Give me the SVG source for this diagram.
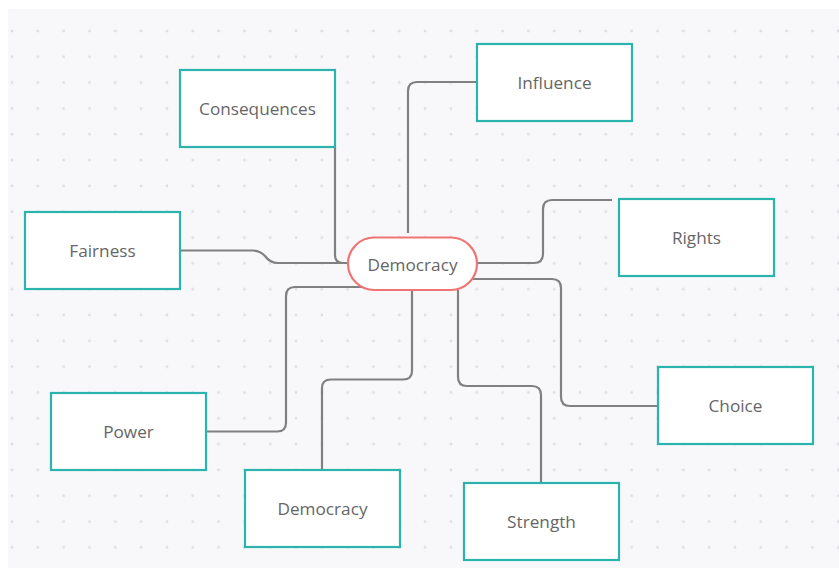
<svg xmlns="http://www.w3.org/2000/svg" width="839" height="568" viewBox="0 0 839 568">
<defs>
<pattern id="dots" patternUnits="userSpaceOnUse" x="-0.91" y="18.09" width="25.82" height="25.82">
<circle cx="12.91" cy="12.91" r="1.4" fill="#dedee2"/>
</pattern>
<style>
.box{fill:#fff;stroke:#2bb3ae;stroke-width:2.2}
.center{fill:#fff;stroke:#f07474;stroke-width:2.2}
.lbl{font-family:"Open Sans","Noto Sans",sans-serif;font-size:17.2px;fill:#666;text-anchor:middle;dominant-baseline:central}
.conn path{fill:none;stroke:#808080;stroke-width:2.2}
</style>
</defs>
<rect x="0" y="0" width="839" height="568" fill="#fff"/>
<rect x="8" y="9" width="831" height="559" fill="#f8f8fa"/>
<rect x="8" y="9" width="831" height="559" fill="url(#dots)"/>
<g class="conn" id="connectors">
<path d="M335 147 V255 Q335 263 343 263 H348"/>
<path d="M180 250.5 H253 Q260 250.5 265 256 Q270 263 278 263 H348"/>
<path d="M477 82 H417 Q408 82 408 91 V233"/>
<path d="M477 263 H534 Q543 263 543 254 V209 Q543 200 552 200 H612"/>
<path d="M465 279 H552 Q561 279 561 288 V397 Q561 406 570 406 H658"/>
<path d="M458 290 V377 Q458 386 467 386 H532 Q541 386 541 395 V483"/>
<path d="M412 290 V371 Q412 379.5 403 379.5 H331 Q322 379.5 322 388 V470"/>
<path d="M365 287 H295 Q286 287 286 296 V423 Q286 431.5 277 431.5 H206"/>
</g>
<g id="n-center"><rect class="center" x="348" y="237.5" width="129" height="52.5" rx="26.25"/><text class="lbl" x="412.5" y="264">Democracy</text></g>
<g id="n-consequences"><rect class="box" x="180" y="70" width="155" height="77"/><text class="lbl" x="257.5" y="108.5">Consequences</text></g>
<g id="n-influence"><rect class="box" x="477" y="44" width="155" height="77"/><text class="lbl" x="554.5" y="82.5">Influence</text></g>
<g id="n-rights"><rect class="box" x="619" y="199" width="155" height="77"/><text class="lbl" x="696.5" y="237.5">Rights</text></g>
<g id="n-fairness"><rect class="box" x="25" y="212" width="155" height="77"/><text class="lbl" x="102.5" y="250.5">Fairness</text></g>
<g id="n-power"><rect class="box" x="51" y="393" width="155" height="77"/><text class="lbl" x="128.5" y="431.5">Power</text></g>
<g id="n-choice"><rect class="box" x="658" y="367" width="155" height="77"/><text class="lbl" x="735.5" y="405.5">Choice</text></g>
<g id="n-democracy2"><rect class="box" x="245" y="470" width="155" height="77"/><text class="lbl" x="322.5" y="508.5">Democracy</text></g>
<g id="n-strength"><rect class="box" x="464" y="483" width="155" height="77"/><text class="lbl" x="541.5" y="521.5">Strength</text></g>
</svg>
